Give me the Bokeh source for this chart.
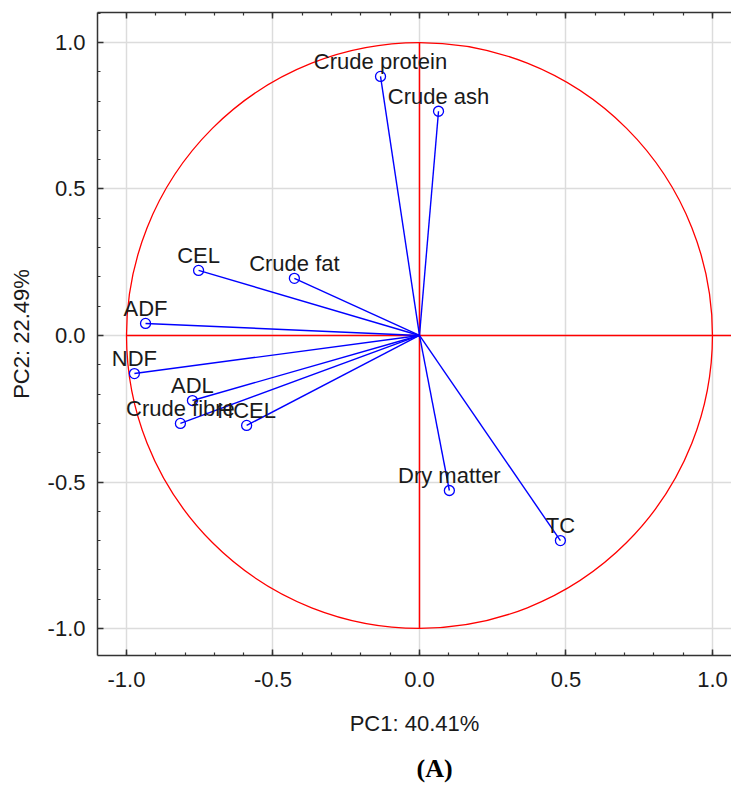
from bokeh.plotting import figure
from bokeh.models import (Range1d, LinearAxis, SingleIntervalTicker, PrintfTickFormatter,
                          Title, ColumnDataSource)
from bokeh.core.properties import value
from bokeh.embed import file_html
from bokeh.resources import INLINE

# Variable loadings on PC1 / PC2
names = ["Crude protein", "Crude ash", "CEL", "Crude fat", "ADF", "NDF",
         "ADL", "Crude fibre", "HCEL", "Dry matter", "TC"]
pc1 = [-0.133, 0.065, -0.754, -0.427, -0.935, -0.973, -0.775, -0.816, -0.590, 0.102, 0.481]
pc2 = [0.884, 0.765, 0.222, 0.195, 0.041, -0.130, -0.222, -0.300, -0.307, -0.529, -0.700]

x_label = "PC1: 40.41%"
y_label = "PC2: 22.49%"
panel_label = "(A)"

FONT = "Liberation Sans"
TXT = "#1a1a1a"
AX = "#333333"
FS = "22px"

p = figure(width=731, height=785, output_backend="svg", toolbar_location=None,
           x_range=Range1d(-1.099, 1.065), y_range=Range1d(-1.092, 1.102),
           frame_width=634, frame_height=643,
           min_border_left=97, min_border_top=12, min_border_bottom=130, min_border_right=0,
           x_axis_location=None, y_axis_location=None)
p.outline_line_color = None
p.background_fill_color = "white"
p.border_fill_color = "white"

def style_axis(ax, labels=True):
    ax.ticker = SingleIntervalTicker(interval=0.5, num_minor_ticks=5)
    ax.formatter = PrintfTickFormatter(format="%.1f")
    ax.axis_line_color = AX
    ax.axis_line_width = 1.5
    ax.major_tick_line_color = AX
    ax.major_tick_line_width = 1.5
    ax.minor_tick_line_color = AX
    ax.minor_tick_line_width = 1.2
    ax.major_tick_in = 6
    ax.major_tick_out = 0
    ax.minor_tick_in = 3
    ax.minor_tick_out = 0
    ax.major_label_text_font = FONT
    ax.major_label_text_font_size = FS
    ax.major_label_text_color = TXT if labels else None
    ax.major_label_standoff = 12

left = LinearAxis(axis_label=y_label)
style_axis(left)
left.axis_label_text_font = FONT
left.axis_label_text_font_size = FS
left.axis_label_text_font_style = "normal"
left.axis_label_text_color = TXT
left.axis_label_standoff = 11
p.add_layout(left, "left")

bottom = LinearAxis(axis_label=x_label)
style_axis(bottom)
bottom.major_label_standoff = 16
bottom.axis_label_text_font = FONT
bottom.axis_label_text_font_size = FS
bottom.axis_label_text_font_style = "normal"
bottom.axis_label_text_color = TXT
bottom.axis_label_standoff = 21
p.add_layout(bottom, "below")

p.add_layout(Title(text=panel_label, align="left", text_font="Liberation Serif",
                   text_font_size="26px", text_font_style="bold", text_color="#000000",
                   standoff=26, offset=319), "below")

top = LinearAxis()
style_axis(top, labels=False)
top.major_label_text_font_size = "0px"
top.major_label_standoff = 0
p.add_layout(top, "above")

# grid
p.xgrid.ticker = SingleIntervalTicker(interval=0.5)
p.ygrid.ticker = SingleIntervalTicker(interval=0.5)
for g in (p.xgrid, p.ygrid):
    g.grid_line_color = "#dcdcdc"
    g.grid_line_width = 1.5

# unit circle and axes cross
p.circle(x=[0], y=[0], radius=1, fill_color=None, line_color="#ff0000", line_width=1.3)
p.segment(x0=[0, -1], y0=[-1, 0], x1=[0, 1.1], y1=[1, 0], line_color="#ff0000", line_width=1.5)

src = ColumnDataSource(dict(x=pc1, y=pc2, x0=[0] * len(pc1), y0=[0] * len(pc2), name=names))
p.segment(x0="x0", y0="y0", x1="x", y1="y", source=src, line_color="#0000ff", line_width=1.4)
p.scatter(x="x", y="y", source=src, size=10, marker="circle", fill_color=None,
          line_color="#0000ff", line_width=1.3)
p.text(x="x", y="y", text="name", source=src, text_align="center", text_baseline="middle",
       y_offset=-15, text_font=value(FONT), text_font_size=FS, text_color=TXT)

open("out.html", "w").write(file_html(p, INLINE))
